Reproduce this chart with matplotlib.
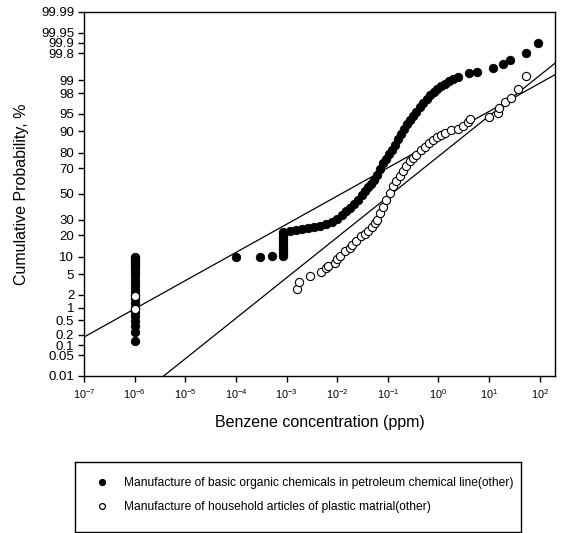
"""Probability plot of benzene concentrations for two industry groups, with
lognormal fit lines on a log x / normal-probability y axis."""
from statistics import NormalDist

import numpy as np
import matplotlib
matplotlib.use("Agg")
import matplotlib.pyplot as plt
from matplotlib.lines import Line2D
from matplotlib.ticker import FixedLocator, FixedFormatter, NullLocator, LogLocator

plt.rcParams["font.family"] = ["Liberation Sans", "DejaVu Sans"]

# --- data (concentration in ppm, cumulative %) ---
ND_CONC = 1e-6  # non-detects plotted at the reporting floor

petro_nd_pct = [9.8, 9.2, 8.6, 8.0, 7.4, 6.7, 6.0, 5.3, 4.6, 4.0, 3.4, 2.9,
                2.4, 2.0, 1.6, 1.3, 1.0, 0.8, 0.62, 0.47, 0.35, 0.24, 0.135]
petro_conc = [1.0e-4, 3.0e-4, 5.1e-4,
              8.5e-4, 8.5e-4, 8.5e-4, 8.5e-4, 8.5e-4, 8.5e-4, 8.5e-4, 8.5e-4,
              8.5e-4, 8.5e-4, 8.5e-4,
              1.16e-3, 1.53e-3, 2.00e-3, 2.64e-3, 3.46e-3, 4.54e-3, 5.97e-3,
              7.84e-3, 9.84e-3, 1.24e-2, 1.48e-2, 1.78e-2, 2.13e-2, 2.55e-2,
              3.06e-2, 3.51e-2, 4.02e-2, 4.61e-2, 5.29e-2, 6.06e-2, 6.95e-2,
              7.96e-2, 9.12e-2, 0.1045, 0.1198, 0.1374, 0.1574, 0.1804, 0.2067,
              0.2368, 0.2714, 0.311, 0.365, 0.428, 0.501, 0.588, 0.689, 0.808,
              0.947, 1.11, 1.33, 1.60, 1.92, 2.40,
              4.0, 5.8, 12.0, 18.8, 26.4, 52.8, 92.5]
petro_pct = [9.9, 10.0, 10.2,
             10.4, 11.2, 12.0, 13.0, 14.0, 15.2, 16.4, 17.7, 19.0, 20.5, 22.0,
             22.4, 22.8, 23.5, 24.2, 25.0, 25.8, 27.0, 28.5, 30.5, 33.4, 36.1,
             38.9, 42.3, 45.5, 49.2, 52.4, 55.3, 58.1, 61.6, 65.4, 69.8, 73.4,
             76.5, 79.2, 81.8, 84.3, 86.9, 89.1, 90.9, 92.3, 93.5, 94.5, 95.4,
             96.2, 96.9, 97.4, 97.8, 98.1, 98.4, 98.6, 98.8, 98.96, 99.07, 99.17,
             99.32, 99.38, 99.50, 99.60, 99.69, 99.80, 99.897]

plastic_conc = [1e-6, 1e-6,
                1.63e-3, 1.75e-3, 2.95e-3, 4.86e-3, 6.10e-3, 6.69e-3, 8.98e-3,
                9.84e-3, 1.13e-2, 1.42e-2, 1.78e-2, 1.95e-2, 2.33e-2, 2.99e-2,
                3.51e-2, 4.02e-2, 4.83e-2, 5.53e-2, 6.06e-2, 6.95e-2, 7.96e-2,
                9.33e-2, 0.109, 0.128, 0.148, 0.172, 0.200, 0.232, 0.271, 0.311,
                0.368, 0.448, 0.537, 0.644, 0.772, 0.926, 1.11, 1.33, 1.79, 2.44,
                3.02, 3.79, 4.15, 9.84, 14.8, 15.8, 20.3, 27.3, 37.2, 52.8]
plastic_pct = [0.93, 1.86,
               2.58, 3.57, 4.64, 5.60, 6.45, 6.98, 7.83, 9.10, 10.3, 12.1, 13.6,
               14.7, 16.7, 19.3, 20.5, 22.2, 24.7, 27.4, 29.5, 34.6, 39.9, 45.5,
               50.8, 56.1, 60.8, 64.7, 68.4, 71.9, 74.9, 77.2, 79.0, 81.8, 83.4,
               85.1, 86.7, 87.9, 88.5, 89.5, 90.4, 90.9, 91.9, 93.0, 93.7, 94.3,
               95.2, 96.1, 97.0, 97.5, 98.4, 99.21]

# lognormal fits: (mean, sd) of log10(ppm)
petro_fit = (-1.928, 1.735)
plastic_fit = (-0.930, 1.209)

prob_ticks = [0.01, 0.05, 0.1, 0.2, 0.5, 1, 2, 5, 10, 20, 30, 50, 70, 80, 90,
              95, 98, 99, 99.8, 99.9, 99.95, 99.99]
prob_labels = ["0.01", "0.05", "0.1", "0.2", "0.5", "1", "2", "5", "10", "20",
               "30", "50", "70", "80", "90", "95", "98", "99", "99.8", "99.9",
               "99.95", "99.99"]

labels = ["Manufacture of basic organic chemicals in petroleum chemical line(other)",
          "Manufacture of household articles of plastic matrial(other)"]

_nd = NormalDist()
_ppf = np.vectorize(_nd.inv_cdf, otypes=[float])
_cdf = np.vectorize(_nd.cdf, otypes=[float])


def prob_fwd(p):
    q = np.clip(np.asarray(p, float) / 100.0, 1e-15, 1 - 1e-15)
    return _ppf(q)


def prob_inv(z):
    return _cdf(np.asarray(z, float)) * 100.0


W, H = 569, 533
fig = plt.figure(figsize=(W / 100, H / 100), dpi=100)
ax = fig.add_axes([84 / W, 1 - 376 / H, (555 - 84) / W, (376 - 12) / H])
ax.set_xscale("log")
ax.set_yscale("function", functions=(prob_fwd, prob_inv))
xmin, xmax = 1e-7, 2e2
ax.set_xlim(xmin, xmax)
ax.set_ylim(0.01, 99.99)

# fitted lognormal lines
xs = np.logspace(np.log10(xmin), np.log10(xmax), 60)
for mu, sd in (petro_fit, plastic_fit):
    fit = NormalDist(mu, sd)
    ax.plot(xs, [fit.cdf(v) * 100 for v in np.log10(xs)], color="black", lw=0.9, zorder=2)

fill_kw = dict(ls="none", marker="o", ms=6.1, mfc="black", mec="black", mew=0.6, zorder=3)
open_kw = dict(ls="none", marker="o", ms=5.9, mfc="white", mec="black", mew=0.8, zorder=4)
ax.plot([ND_CONC] * len(petro_nd_pct), petro_nd_pct, **fill_kw)
ax.plot(petro_conc, petro_pct, **fill_kw)
ax.plot(plastic_conc, plastic_pct, **open_kw)

ax.yaxis.set_major_locator(FixedLocator(prob_ticks))
ax.yaxis.set_major_formatter(FixedFormatter(prob_labels))
ax.yaxis.set_minor_locator(NullLocator())
ax.xaxis.set_major_locator(LogLocator(base=10, numticks=20))
ax.xaxis.set_minor_locator(NullLocator())
ax.tick_params(axis="y", direction="out", length=4, width=1, pad=3, labelsize=9.5)
ax.tick_params(axis="x", direction="out", length=4, width=1, pad=4, labelsize=7.8)
for s in ax.spines.values():
    s.set_linewidth(1.0)

ax.set_xlabel("Benzene concentration (ppm)", fontsize=11.5)
ax.set_ylabel("Cumulative Probability, %", fontsize=11.5)
ax.xaxis.set_label_coords(0.5, (376 - 415) / 364)
ax.yaxis.set_label_coords((29 - 84) / 471, 0.5)

# legend in its own framed box below the plot
lax = fig.add_axes([75 / W, 1 / H, 446 / W, 70 / H])
lax.set_xticks([])
lax.set_yticks([])
for s in lax.spines.values():
    s.set_linewidth(1.0)
handles = [Line2D([], [], ls="none", marker="o", ms=4.2, mfc="black", mec="black"),
           Line2D([], [], ls="none", marker="o", ms=4.2, mfc="white", mec="black", mew=0.9)]
lax.legend(handles, labels, loc="center left", bbox_to_anchor=((90 - 75) / 446, 0.53),
           frameon=False, fontsize=8.65, borderpad=0, handlelength=1.0,
           handletextpad=1.33, labelspacing=0.98)

fig.savefig("out.png", dpi=100)
